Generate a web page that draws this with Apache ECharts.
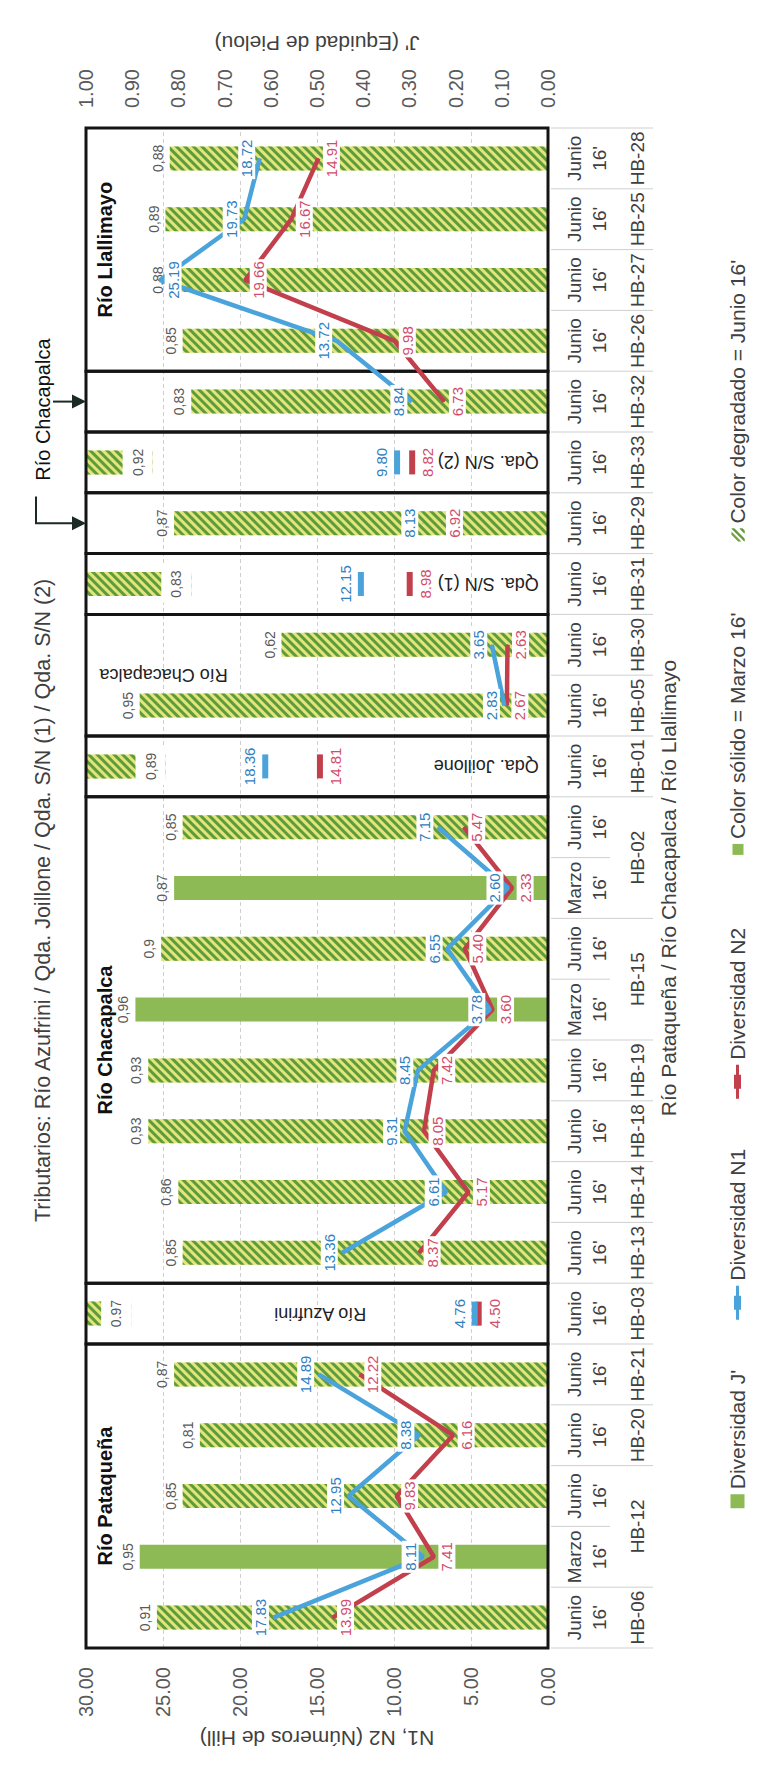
<!DOCTYPE html>
<html><head><meta charset="utf-8">
<script src="https://cdn.jsdelivr.net/npm/echarts@6/dist/echarts.min.js"></script>
<style>
html,body{margin:0;padding:0;width:765px;height:1788px;overflow:hidden;background:#fff}
#wrap{position:absolute;left:0;top:0;width:1788px;height:765px;transform-origin:0 0;transform:translate(0,1788px) rotate(-90deg);}
#chart{width:1788px;height:765px}
</style></head><body>
<div id="wrap"><div id="chart"></div></div>
<script>
const stations = ['HB-06','HB-12','HB-12','HB-20','HB-21','HB-03','HB-13','HB-14','HB-18','HB-19','HB-15','HB-15','HB-02','HB-02','HB-01','HB-05','HB-30','HB-31','HB-29','HB-33','HB-32','HB-26','HB-27','HB-25','HB-28'];
const periods = ['Junio','Marzo','Junio','Junio','Junio','Junio','Junio','Junio','Junio','Junio','Marzo','Junio','Marzo','Junio','Junio','Junio','Junio','Junio','Junio','Junio','Junio','Junio','Junio','Junio','Junio'];
const jValues = [0.91,0.95,0.85,0.81,0.87,0.97,0.85,0.86,0.93,0.93,0.96,0.9,0.87,0.85,0.89,0.95,0.62,0.83,0.87,0.92,0.83,0.85,0.88,0.89,0.88];
const n1Values = [17.83,8.11,12.95,8.38,14.89,4.76,13.36,6.61,9.31,8.45,3.78,6.55,2.60,7.15,18.36,2.83,3.65,12.15,8.13,9.80,8.84,13.72,25.19,19.73,18.72];
const n2Values = [13.99,7.41,9.83,6.16,12.22,4.50,8.37,5.17,8.05,7.42,3.60,5.40,2.33,5.47,14.81,2.67,2.63,8.98,6.92,8.82,6.73,9.98,19.66,16.67,14.91];
const nTickLabels = ['0.00','5.00','10.00','15.00','20.00','25.00','30.00'];
const jTickLabels = ['0.00','0.10','0.20','0.30','0.40','0.50','0.60','0.70','0.80','0.90','1.00'];
const tributaryIdx = [5,14,17,19];
const boxes = [
  {from:0,to:4,name:'Río Pataqueña',kind:'main'},
  {from:5,to:5,name:'Río Azufrini',kind:'trib',at:11.8},
  {from:6,to:13,name:'Río Chacapalca',kind:'main'},
  {from:14,to:14,name:'Qda. Joillone',kind:'trib',at:0.6},
  {from:15,to:16,name:'Río Chacapalca',kind:'trib',at:20.8},
  {from:17,to:17,name:'Qda. S/N (1)',kind:'trib',at:0.6},
  {from:18,to:18,name:'',kind:'none'},
  {from:19,to:19,name:'Qda. S/N (2)',kind:'trib',at:0.6},
  {from:20,to:20,name:'',kind:'none'},
  {from:21,to:24,name:'Río Llallimayo',kind:'main'}
];
// line segments: [from, to, withMarker]
const segments = [[0,4,false],[5,5,true],[6,13,false],[14,14,true],[15,16,false],[17,17,true],[18,18,false],[19,19,true],[20,24,false]];

const FONT = "'Liberation Sans', Arial, sans-serif";
const SOLID = '#8dba55';
const N1C = '#4aa3da', N2C = '#c23f4c';
const N1L = '#2f80c0', N2L = '#d24d6a';
const J_MAX = 1.075;
const HATCH = {color:'#e2e57a', decal:{symbol:'rect', symbolSize:1, color:'#5e9b3d', dashArrayX:[1,0], dashArrayY:[3,3], rotation:-Math.PI/4}};
const tribSet = new Set(tributaryIdx);
const categories = stations.map((s,i)=>s+' '+periods[i]+" 16'");
const fmtJ = i => i===5 ? String(jValues[i]) : String(jValues[i]).replace('.', ',');

const outer = [];
stations.forEach((s,i)=>{ if(i>0 && stations[i-1]===s) outer[outer.length-1].to=i; else outer.push({from:i,to:i,name:s}); });

const series = [];
series.push({
  name:"Diversidad J'", type:'bar', yAxisIndex:2, stack:'j', barWidth:24, z:2,
  itemStyle:{color:SOLID},
  label:{show:true, position:'top', distance:5, formatter:p=>fmtJ(p.dataIndex), fontSize:14, color:'#595959', fontFamily:FONT},
  data: jValues.map((v,i)=> tribSet.has(i) ? {value:v, itemStyle:{color:'rgba(0,0,0,0)'}, label:{show:false}}
        : periods[i]==='Marzo' ? {value:v, itemStyle:{color:SOLID}} : {value:v, itemStyle:HATCH})
});
series.push({
  name:'_trib', type:'bar', yAxisIndex:2, stack:'j', barWidth:24, z:2, itemStyle:HATCH,
  label:{show:true, position:'insideBottom', distance:0, formatter:p=>fmtJ(p.dataIndex), fontSize:14, color:'#595959', backgroundColor:'#fff', padding:[8,5,8,5], fontFamily:FONT},
  data: jValues.map((v,i)=> tribSet.has(i) ? +(J_MAX - v).toFixed(3) : '-')
});
series.push({name:"Color sólido = Marzo 16'", type:'bar', yAxisIndex:2, stack:'j', barWidth:24, itemStyle:{color:SOLID}, data:[]});
series.push({name:"Color degradado = Junio 16'", type:'bar', yAxisIndex:2, stack:'j', barWidth:24, itemStyle:HATCH, data:[]});

// boxes
series.push({
  type:'custom', name:'_boxes', silent:true, z:3, xAxisIndex:0, yAxisIndex:0,
  data: boxes.map(b=>[b.from,b.to]),
  renderItem:(params, api)=>{
    const b = boxes[params.dataIndex];
    const band = api.size([1,0])[0];
    const ca = api.coord([b.from,0])[0], cb = api.coord([b.to,0])[0];
    const xa = ca - band/2, xb = cb + band/2;
    const yTop = api.coord([0,30])[1], yBot = api.coord([0,0])[1];
    const ch = [{type:'rect', shape:{x:xa,y:yTop,width:xb-xa,height:yBot-yTop}, style:{fill:'none', stroke:'#141414', lineWidth:3}}];
    if (b.kind==='main') ch.push({type:'text', x:(xa+xb)/2, y:yTop+19, style:{text:b.name, font:'bold 20px '+FONT, fill:'#111', align:'center', verticalAlign:'middle'}});
    else if (b.kind==='trib') { const y = api.coord([b.from, b.at])[1]; ch.push({type:'text', x:(ca+cb)/2, y:y, rotation:Math.PI/2, style:{text:b.name, font:'18px '+FONT, fill:'#222', align:'left', verticalAlign:'middle'}}); }
    return {type:'group', children:ch};
  }
});
// outer category level + separators
series.push({
  type:'custom', name:'_outer', silent:true, z:1, xAxisIndex:0, yAxisIndex:0,
  data: outer.map(g=>[g.from,g.to]),
  renderItem:(params, api)=>{
    const g = outer[params.dataIndex];
    const band = api.size([1,0])[0];
    const ca = api.coord([g.from,0])[0], cb = api.coord([g.to,0])[0];
    const xa = ca - band/2, xb = cb + band/2;
    const yBot = api.coord([0,0])[1];
    const ln = (x,len)=>({type:'line', shape:{x1:x,y1:yBot+3,x2:x,y2:yBot+len}, style:{stroke:'#cfcfcf', lineWidth:1}});
    const ch = [{type:'text', x:(ca+cb)/2, y:yBot+89, style:{text:g.name, font:'19px '+FONT, fill:'#404040', align:'center', verticalAlign:'middle'}}, ln(xa,105)];
    if (params.dataIndex===outer.length-1) ch.push(ln(xb,105));
    for (let k=g.from+1;k<=g.to;k++) ch.push(ln(xa+(k-g.from)*band,62));
    return {type:'group', children:ch};
  }
});
// Río Chacapalca bracket (points to HB-29 and HB-32)
series.push({
  type:'custom', name:'_bracket', silent:true, z:3, xAxisIndex:0, yAxisIndex:0,
  data:[[18,20]],
  renderItem:(params, api)=>{
    const xA = api.coord([18,0])[0], xB = api.coord([20,0])[0];
    const yTop = api.coord([0,30])[1];
    const st = {stroke:'#1b2a26', lineWidth:2, fill:'none'};
    const tri = x=>({type:'polygon', shape:{points:[[x-7,yTop-14],[x+7,yTop-14],[x,yTop]]}, style:{fill:'#1b2a26'}});
    return {type:'group', children:[
      {type:'text', x:xB-8, y:yTop-43, style:{text:'Río Chacapalca', font:'20px '+FONT, fill:'#111', align:'center', verticalAlign:'middle'}},
      {type:'polyline', shape:{points:[[xB-95,yTop-50],[xA,yTop-50],[xA,yTop-14]]}, style:st},
      {type:'line', shape:{x1:xB,y1:yTop-33,x2:xB,y2:yTop-14}, style:st},
      tri(xA), tri(xB)
    ]};
  }
});
// lines
const lineSeries = (name, vals, color, lblColor, pos, z)=> segments.map(([a,b,mk])=>({
  name, type:'line', z, yAxisIndex:0, showAllSymbol:true,
  symbol: mk ? 'rect' : 'circle', symbolSize: mk ? [24,6] : 1,
  itemStyle:{color}, lineStyle:{color, width:4.5},
  label:{show:true, position:pos, distance:4, color:lblColor, fontSize:15, fontFamily:FONT, backgroundColor:'#fff', padding:[1,2], formatter:p=>vals[p.dataIndex].toFixed(2)},
  data: vals.map((v,i)=> (i>=a && i<=b) ? ((name==='Diversidad N1' && i===22) ? {value:v, label:{position:'bottom'}} : v) : '-')
}));
series.push(...lineSeries('Diversidad N2', n2Values, N2C, N2L, 'bottom', 4));
series.push(...lineSeries('Diversidad N1', n1Values, N1C, N1L, 'top', 5));

const frame = 'M0,0M34,14';
const option = {
  animation:false,
  textStyle:{fontFamily:FONT},
  title:{text:'Tributarios: Río Azufrini / Qda. Joillone / Qda. S/N (1) / Qda. S/N (2)', left:561, top:27, textStyle:{fontSize:21.5, fontWeight:'normal', color:'#404040', fontFamily:FONT}},
  legend:{top:722, left:'center', itemGap:50, itemWidth:34, itemHeight:14, selectedMode:false,
    textStyle:{fontSize:21, color:'#404040', fontFamily:FONT},
    data:[
      {name:"Diversidad J'", icon:'path://'+frame+'M20,0H34V14H20Z', itemStyle:{color:SOLID}},
      {name:'Diversidad N1', icon:'path://'+frame+'M0,5.5H34V8.5H0ZM10,3.5H24V10.5H10Z', itemStyle:{color:N1C}},
      {name:'Diversidad N2', icon:'path://'+frame+'M0,5.5H34V8.5H0ZM10,3.5H24V10.5H10Z', itemStyle:{color:N2C}},
      {name:"Color sólido = Marzo 16'", icon:'path://'+frame+'M23,2H34V13H23Z', itemStyle:{color:SOLID}},
      {name:"Color degradado = Junio 16'", icon:'path://'+frame+'M21,14L24,14L34,4L34,1ZM21,8L21,11L31,1L28,1ZM29,14L32,14L34,12L34,9Z', itemStyle:{color:'#7aa83f'}}
    ]},
  grid:{left:140, right:128, top:86, bottom:217, containLabel:false, outerBoundsMode:'none'},
  xAxis:[{type:'category', data:categories, boundaryGap:true,
    axisLine:{show:false}, axisTick:{show:false},
    axisLabel:{interval:0, formatter:(v,i)=>periods[i]+"\n16'", fontSize:19, lineHeight:25, color:'#404040', margin:14, fontFamily:FONT},
    name:'Río Pataqueña / Río Chacapalca / Río Llallimayo', nameLocation:'middle', nameGap:110,
    nameTextStyle:{fontSize:21, color:'#404040', fontFamily:FONT}}],
  yAxis:[
    {type:'value', min:0, max:30, interval:5, position:'left', axisLine:{show:false}, axisTick:{show:false},
     axisLabel:{formatter:v=>nTickLabels[Math.round(v/5)], fontSize:20, color:'#595959', margin:19, fontFamily:FONT},
     splitLine:{lineStyle:{color:'#cfcfcf', type:[4,3]}},
     name:'N1, N2 (Números de Hill)', nameLocation:'middle', nameRotate:90, nameGap:79,
     nameTextStyle:{fontSize:21, color:'#404040', fontFamily:FONT}},
    {type:'value', min:0, max:1, interval:0.1, position:'right', axisLine:{show:false}, axisTick:{show:false}, splitLine:{show:false},
     axisLabel:{formatter:v=>jTickLabels[Math.round(v*10)], fontSize:20, color:'#595959', margin:20, fontFamily:FONT},
     name:"J' (Equidad de Pielou)", nameLocation:'middle', nameRotate:90, nameGap:74,
     nameTextStyle:{fontSize:21, color:'#404040', fontFamily:FONT}},
    {type:'value', min:0, max:J_MAX, show:false}
  ],
  series
};
const chart = echarts.init(document.getElementById('chart'), null, {renderer:'svg', width:1788, height:765});
chart.setOption(option);
</script>
</body></html>
